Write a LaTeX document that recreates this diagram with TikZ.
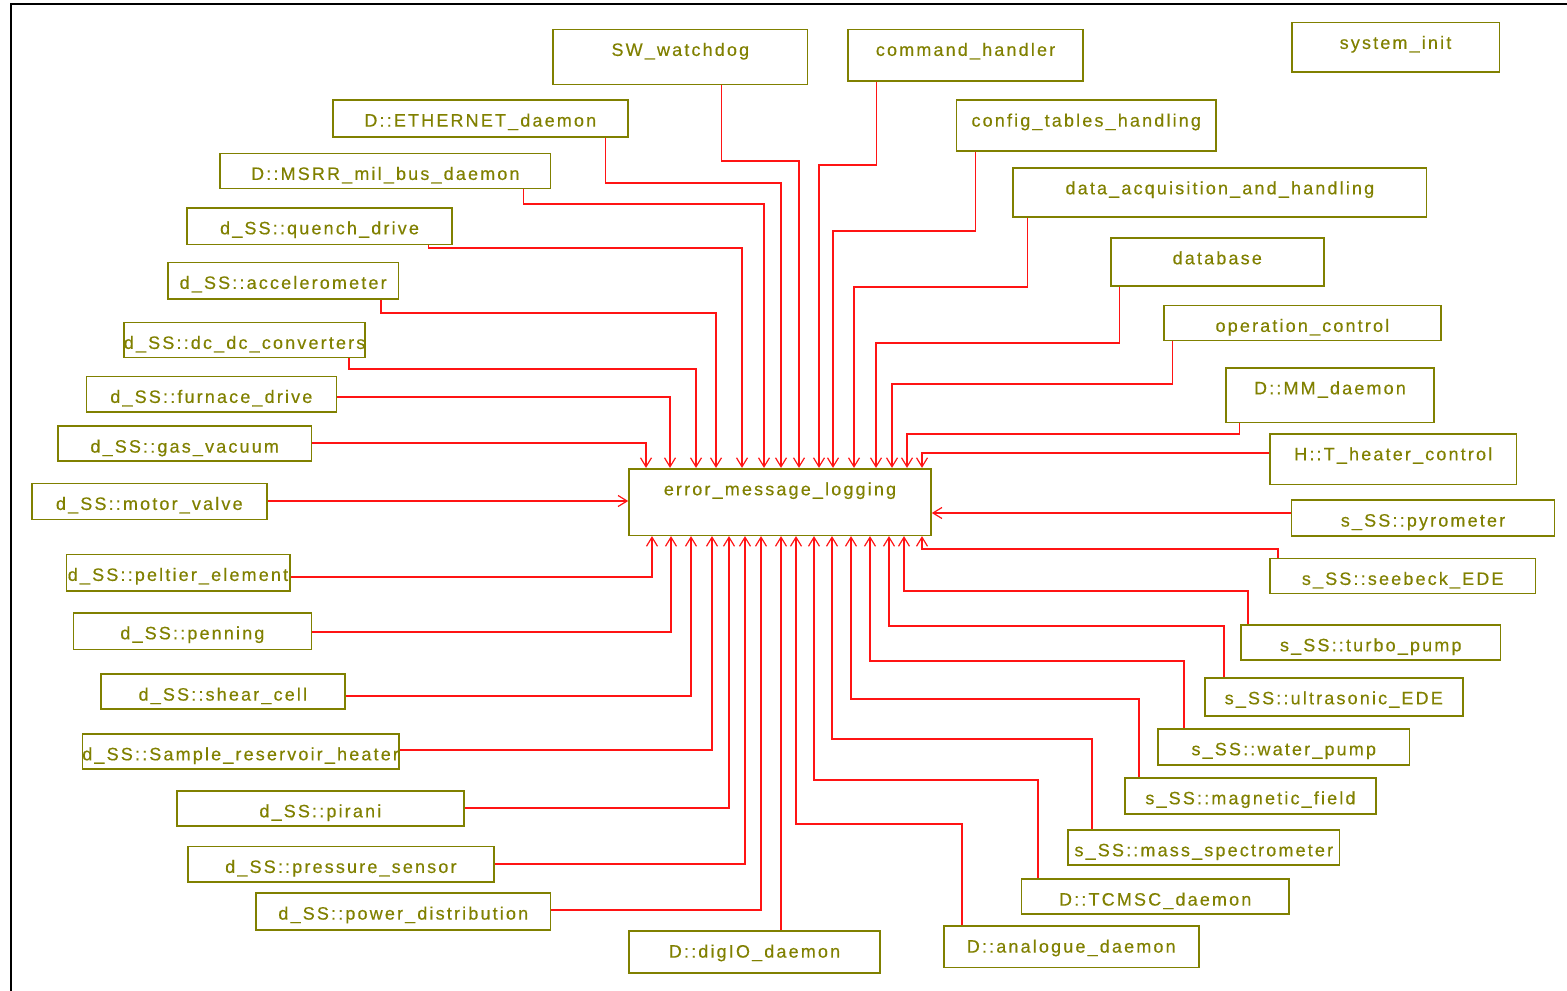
\documentclass[tikz,border=0pt]{standalone}
\usepackage{fontspec}
\setmainfont{Liberation Sans}[LetterSpace=12,FakeBold=0.4]
\usetikzlibrary{arrows.meta,fit}
\definecolor{olv}{RGB}{128,128,0}
\definecolor{lnred}{RGB}{255,20,20}
\tikzset{
  boxs/.style={draw=olv, line width=1.6pt, inner sep=0pt, fill=none},
  lbl/.style={text=olv, inner sep=0pt, anchor=base, font=\fontsize{18}{21}\selectfont},
  conn/.style={draw=lnred, line width=1.3pt, -{Straight Barb[length=9pt,width=11pt,line width=1.2pt]}},
}
\newcommand\bx[6]{%
  \node[boxs, fit={(#2,#3) (#4,#5)}] (#1) {};
  \node[lbl] (#1-t) at ([yshift=-27.4pt]#1.north) {#6};
}
\begin{document}
\begin{tikzpicture}[x=1pt,y=-1pt]
\useasboundingbox (0,0) rectangle (1567,991);
\coordinate (frA) at (11,991);
\coordinate (frB) at (11,4);
\coordinate (frC) at (1567,4);
\draw[line width=2pt, black] (frA) -- (frB) -- (frC);

\bx{sw}{553.2}{29.3}{807.5}{84.3}{SW\_watchdog}
\bx{cmd}{847.9}{29.3}{1083.2}{81}{command\_handler}
\bx{sys}{1291.7}{22.3}{1499.3}{71.7}{system\_init}
\bx{eth}{332.8}{100}{627.8}{136.7}{D::ETHERNET\_daemon}
\bx{cfg}{956.5}{100}{1216}{151}{config\_tables\_handling}
\bx{msrr}{220.1}{153.3}{550.6}{188.3}{D::MSRR\_mil\_bus\_daemon}
\bx{daq}{1013.2}{167.7}{1426.6}{217}{data\_acquisition\_and\_handling}
\bx{que}{186.9}{207.7}{452.2}{244.3}{d\_SS::quench\_drive}
\bx{db}{1110.8}{237.7}{1323.7}{285.7}{database}
\bx{acc}{167.9}{262.3}{398.4}{299}{d\_SS::accelerometer}
\bx{dcdc}{124}{322.3}{365.2}{357.3}{d\_SS::dc\_dc\_converters}
\bx{opc}{1163.8}{305.3}{1441}{340.3}{operation\_control}
\bx{fur}{86.4}{376.3}{336.3}{411.7}{d\_SS::furnace\_drive}
\bx{mm}{1226.1}{367.7}{1433.8}{422.3}{D::MM\_daemon}
\bx{gas}{58}{426}{311.4}{461}{d\_SS::gas\_vacuum}
\bx{htc}{1269.9}{433.7}{1516.6}{484.3}{H::T\_heater\_control}
\bx{mot}{31.9}{483.3}{266.7}{519.3}{d\_SS::motor\_valve}
\bx{err}{629}{468.7}{931}{535.3}{error\_message\_logging}
\bx{pyr}{1291.6}{500}{1554.4}{536}{s\_SS::pyrometer}
\bx{pel}{66.3}{554.3}{289.7}{591}{d\_SS::peltier\_element}
\bx{see}{1269.9}{558.3}{1535.5}{593.3}{s\_SS::seebeck\_EDE}
\bx{pen}{73.4}{612.7}{311.4}{649.3}{d\_SS::penning}
\bx{tur}{1241}{624.7}{1500.5}{659.7}{s\_SS::turbo\_pump}
\bx{she}{100.7}{674}{345}{709}{d\_SS::shear\_cell}
\bx{ult}{1204.8}{677.7}{1462.7}{715.7}{s\_SS::ultrasonic\_EDE}
\bx{smp}{82.5}{733.7}{398.8}{768.7}{d\_SS::Sample\_reservoir\_heater}
\bx{wat}{1158.2}{728.7}{1409.3}{765}{s\_SS::water\_pump}
\bx{pir}{177}{790.7}{463.7}{825.7}{d\_SS::pirani}
\bx{mag}{1124.9}{777.7}{1376}{814}{s\_SS::magnetic\_field}
\bx{prs}{187.7}{846.3}{494.1}{881.7}{d\_SS::pressure\_sensor}
\bx{mas}{1068.2}{829.7}{1339.4}{864.7}{s\_SS::mass\_spectrometer}
\bx{pow}{256}{893}{550.6}{929.7}{d\_SS::power\_distribution}
\bx{tcm}{1021.6}{879}{1288.8}{914}{D::TCMSC\_daemon}
\bx{dig}{629}{931}{880}{972.7}{D::digIO\_daemon}
\bx{ana}{943.7}{926}{1198.8}{967.3}{D::analogue\_daemon}

% top inputs
\draw[conn] (gas.east |- 0,443) -| (err.north -| 646,0);
\draw[conn] (fur.east |- 0,397) -| (err.north -| 670,0);
\draw[conn] (dcdc.south -| 349,0) |- (696,369) -- (err.north -| 696,0);
\draw[conn] (acc.south -| 381,0) |- (716,313) -- (err.north -| 716,0);
\draw[conn] (que.south -| 428.5,0) |- (742,248) -- (err.north -| 742,0);
\draw[conn] (msrr.south -| 523.4,0) |- (764,204) -- (err.north -| 764,0);
\draw[conn] (eth.south -| 605.6,0) |- (781,183) -- (err.north -| 781,0);
\draw[conn] (sw.south -| 721.7,0) |- (799,161) -- (err.north -| 799,0);
\draw[conn] (cmd.south -| 876.7,0) |- (819,165) -- (err.north -| 819,0);
\draw[conn] (cfg.south -| 975.4,0) |- (833,231) -- (err.north -| 833,0);
\draw[conn] (daq.south -| 1027.6,0) |- (854,287) -- (err.north -| 854,0);
\draw[conn] (db.south -| 1119.2,0) |- (876,343) -- (err.north -| 876,0);
\draw[conn] (opc.south -| 1172.7,0) |- (892,384) -- (err.north -| 892,0);
\draw[conn] (mm.south -| 1239.8,0) |- (907,434) -- (err.north -| 907,0);
\draw[conn] (htc.west |- 0,453) -| (err.north -| 922,0);

% side inputs
\draw[conn] (mot.east |- 0,501) -- (err.west |- 0,501);
\draw[conn] (pyr.west |- 0,513) -- (err.east |- 0,513);

% bottom inputs
\draw[conn] (pel.east |- 0,577) -| (err.south -| 652,0);
\draw[conn] (pen.east |- 0,632) -| (err.south -| 671,0);
\draw[conn] (she.east |- 0,696) -| (err.south -| 691,0);
\draw[conn] (smp.east |- 0,750) -| (err.south -| 712,0);
\draw[conn] (pir.east |- 0,808) -| (err.south -| 729,0);
\draw[conn] (prs.east |- 0,864) -| (err.south -| 745,0);
\draw[conn] (pow.east |- 0,910) -| (err.south -| 761,0);
\draw[conn] (dig.north -| 781,0) -- (err.south -| 781,0);
\draw[conn] (ana.north -| 962,0) |- (796,824) -- (err.south -| 796,0);
\draw[conn] (tcm.north -| 1038,0) |- (814,780) -- (err.south -| 814,0);
\draw[conn] (mas.north -| 1092,0) |- (832,739) -- (err.south -| 832,0);
\draw[conn] (mag.north -| 1139,0) |- (851,699) -- (err.south -| 851,0);
\draw[conn] (wat.north -| 1184,0) |- (870,661) -- (err.south -| 870,0);
\draw[conn] (ult.north -| 1224,0) |- (889,626) -- (err.south -| 889,0);
\draw[conn] (tur.north -| 1248,0) |- (904,591) -- (err.south -| 904,0);
\draw[conn] (see.north -| 1278,0) |- (922,549) -- (err.south -| 922,0);
\end{tikzpicture}
\end{document}
